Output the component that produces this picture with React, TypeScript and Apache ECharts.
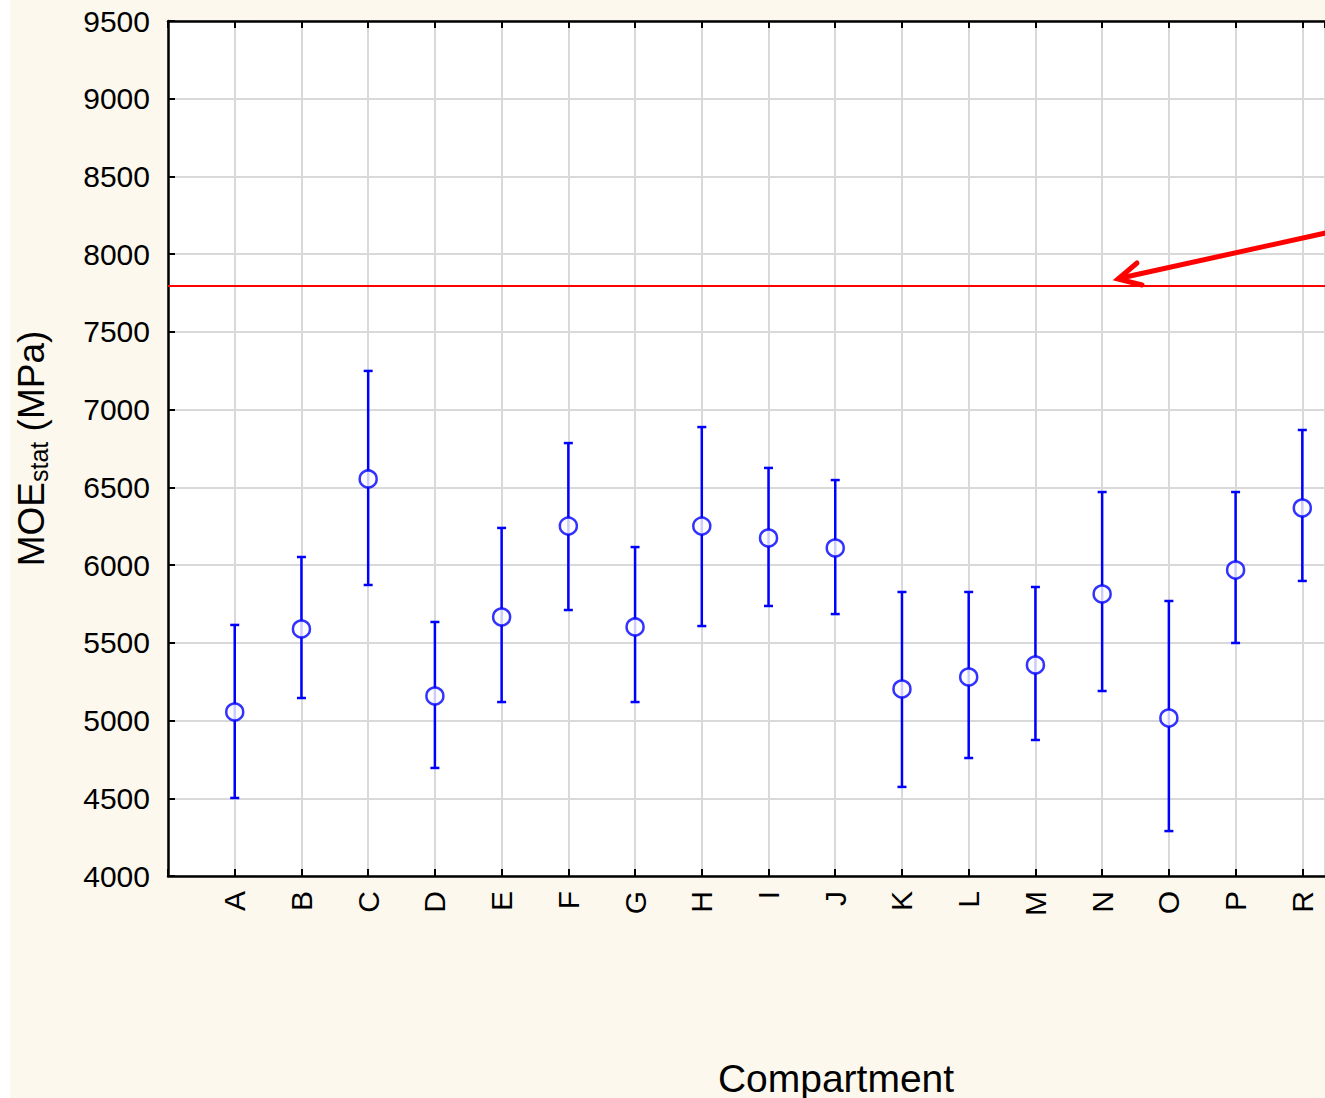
import React, { useEffect, useRef } from "react";
import * as echarts from "echarts";

const categories = ["A", "B", "C", "D", "E", "F", "G", "H", "I", "J", "K", "L", "M", "N", "O", "P", "R"];
const means = [5055, 5589, 6554, 5158, 5666, 6251, 5602, 6251, 6174, 6110, 5203, 5280, 5357, 5814, 5016, 5968, 6367];
const upper = [5615, 6052, 7249, 5634, 6239, 6785, 6116, 6888, 6625, 6547, 5827, 5827, 5859, 6470, 5769, 6470, 6869];
const lower = [4502, 5145, 5872, 4695, 5119, 5711, 5119, 5608, 5737, 5685, 4573, 4759, 4875, 5190, 4289, 5499, 5898];
const referenceValue = 7800;
const yTicks = { min: 4000, max: 9500, step: 500 };

export default function App() {
  const ref = useRef<HTMLDivElement>(null);
  useEffect(() => {
    if (!ref.current) return;
    const chart = echarts.init(ref.current, undefined, { renderer: "svg" });
    const blue = "#0000ff";
    const font = "Liberation Sans, Arial, sans-serif";
    const xMax = 17.34;
    const labelFmt = (v: number) => {
      const i = Math.round(v);
      return Math.abs(v - i) < 1e-6 && i >= 1 && i <= categories.length ? categories[i - 1] : "";
    };
    const errData = categories.map((_, i) => [i + 1, lower[i], upper[i]]);
    const meanData = categories.map((_, i) => [i + 1, means[i]]);
    chart.setOption({
      animation: false,
      backgroundColor: "#fdf8ee",
      grid: {
        left: 168,
        top: 21,
        right: 0,
        height: 855,
        show: true,
        backgroundColor: "#ffffff",
        borderColor: "#000",
        borderWidth: 0,
      },
      graphic: [
        { type: "rect", left: 0, top: 0, shape: { x: 0, y: 0, width: 10, height: 1098 }, style: { fill: "#ffffff" }, z: -10 },
        {
          type: "text",
          x: 836,
          y: 1078,
          style: { text: "Compartment", font: `39px ${font}`, fill: "#000", textAlign: "center", textVerticalAlign: "middle" },
        },
        {
          type: "polyline",
          shape: { points: [[1330, 232], [1121, 278]] },
          style: { stroke: "#ff0000", lineWidth: 5, fill: null },
          z: 100,
        },
        {
          type: "polyline",
          shape: { points: [[1137, 263], [1118, 279], [1142, 285]] },
          style: { stroke: "#ff0000", lineWidth: 5, fill: null, lineJoin: "miter", lineCap: "round" },
          z: 100,
        },
      ],
      xAxis: [
        {
          type: "value",
          min: 0,
          max: xMax,
          interval: 1,
          position: "bottom",
          axisLine: { show: true, lineStyle: { color: "#000", width: 2.5 } },
          axisTick: { show: true, inside: true, length: 7, lineStyle: { color: "#000", width: 2 } },
          axisLabel: {
            formatter: labelFmt,
            rotate: 90,
            margin: 15,
            fontSize: 30,
            fontFamily: font,
            color: "#000",
            showMinLabel: true,
            showMaxLabel: false,
          },
          splitLine: { show: true, lineStyle: { color: "#d9d9d9", width: 2 } },
        },
        {
          type: "value",
          min: 0,
          max: xMax,
          interval: 1,
          position: "top",
          axisLine: { show: true, lineStyle: { color: "#000", width: 2.5 } },
          axisTick: { show: true, inside: true, length: 7, lineStyle: { color: "#000", width: 2 } },
          axisLabel: { show: false },
          splitLine: { show: false },
        },
      ],
      yAxis: {
        type: "value",
        min: yTicks.min,
        max: yTicks.max,
        interval: yTicks.step,
        axisLine: { show: true, lineStyle: { color: "#000", width: 2.5 } },
        axisTick: { show: true, inside: true, length: 7, lineStyle: { color: "#000", width: 2 } },
        axisLabel: { fontSize: 30, fontFamily: font, color: "#000", margin: 18, formatter: (v: number) => String(v) },
        splitLine: { show: true, lineStyle: { color: "#d9d9d9", width: 2 } },
        name: "{m|MOE}{s|stat}{m| (MPa)}",
        nameLocation: "middle",
        nameRotate: 90,
        nameGap: 116,
        nameTextStyle: {
          rich: {
            m: { fontSize: 37, fontFamily: font, color: "#000", lineHeight: 42 },
            s: { fontSize: 25, fontFamily: font, color: "#000", lineHeight: 42, padding: [16, 0, 0, 0] },
          },
        },
      },
      series: [
        {
          type: "custom",
          xAxisIndex: 0,
          data: errData,
          renderItem: (params: any, api: any) => {
            const x = api.value(0);
            const lo = api.coord([x, api.value(1)]);
            const hi = api.coord([x, api.value(2)]);
            const w = 4.5;
            const st = { stroke: blue, lineWidth: 2.5 };
            return {
              type: "group",
              children: [
                { type: "line", shape: { x1: lo[0], y1: lo[1], x2: hi[0], y2: hi[1] }, style: st },
                { type: "line", shape: { x1: lo[0] - w, y1: lo[1], x2: lo[0] + w, y2: lo[1] }, style: st },
                { type: "line", shape: { x1: hi[0] - w, y1: hi[1], x2: hi[0] + w, y2: hi[1] }, style: st },
              ],
            };
          },
          z: 5,
        },
        {
          type: "scatter",
          xAxisIndex: 0,
          data: meanData,
          symbol: "circle",
          symbolSize: 17,
          itemStyle: { color: "#ffffff", borderColor: blue, borderWidth: 2.5 },
          z: 6,
          markLine: {
            silent: true,
            symbol: "none",
            label: { show: false },
            lineStyle: { color: "#ff0000", width: 2, type: "solid" },
            data: [{ yAxis: referenceValue }],
          },
        },
      ],
    });
    return () => chart.dispose();
  }, []);
  return <div ref={ref} style={{ position: "absolute", left: 0, top: 0, width: 1325, height: 1098 }} />;
}
